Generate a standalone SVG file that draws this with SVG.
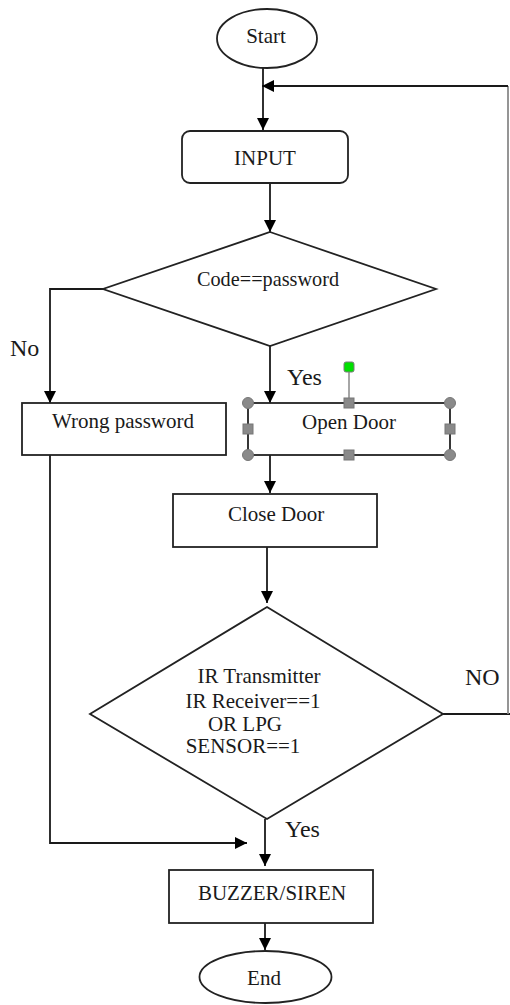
<svg xmlns="http://www.w3.org/2000/svg" width="510" height="1005" viewBox="0 0 510 1005">
<defs>
<style>
.shape{fill:#fff;stroke:#222;stroke-width:1.8}
.line{fill:none;stroke:#1a1a1a;stroke-width:1.8}
.t{font-size:21px;fill:#1a1a1a;text-anchor:middle}
.lbl{font-size:24px;fill:#1a1a1a}
.h{fill:#8a8a8a;stroke:#777;stroke-width:1}
</style>
<marker id="ah" viewBox="0 0 12 12" refX="12" refY="6" markerWidth="12" markerHeight="12" markerUnits="userSpaceOnUse" orient="auto">
<path d="M0,0 L12,6 L0,12 Z" fill="#000"/>
</marker>
</defs>
<rect width="510" height="1005" fill="#fff"/>

<g font-family="'Liberation Serif', 'Times New Roman', serif">
<g id="connectors">
<line class="line" x1="263" y1="68" x2="263" y2="130" marker-end="url(#ah)"/>
<polyline class="line" points="443,714 510,714" />
<line x1="508" y1="714" x2="508" y2="86" stroke="#8a8a8a" stroke-width="1.8"/>
<line class="line" x1="508" y1="86" x2="262" y2="86" marker-end="url(#ah)"/>
<line class="line" x1="270" y1="183" x2="270" y2="232" marker-end="url(#ah)"/>
<polyline class="line" points="103,289 50,289 50,403" marker-end="url(#ah)"/>
<line class="line" x1="270" y1="346" x2="270" y2="403" marker-end="url(#ah)"/>
<line class="line" x1="270" y1="455" x2="270" y2="493" marker-end="url(#ah)"/>
<line class="line" x1="267" y1="547" x2="267" y2="603" marker-end="url(#ah)"/>
<polyline class="line" points="50,455 50,843 247,843" marker-end="url(#ah)"/>
<line class="line" x1="265" y1="819" x2="265" y2="866" marker-end="url(#ah)"/>
<line class="line" x1="265" y1="923" x2="265" y2="950" marker-end="url(#ah)"/>
<text class="lbl" x="10" y="356" font-size="25">No</text>
<text class="lbl" x="287" y="385">Yes</text>
<text class="lbl" x="465" y="685">NO</text>
<text class="lbl" x="285" y="837">Yes</text>
</g>

<g id="start">
<ellipse class="shape" cx="267" cy="38.5" rx="50" ry="29.5"/>
<text class="t" x="266" y="43" font-size="20">Start</text>
</g>

<g id="input">
<rect class="shape" x="182" y="131" width="166" height="52" rx="8"/>
<text class="t" x="265" y="165" font-size="25">INPUT</text>
</g>

<g id="decision-code">
<polygon class="shape" points="270,232 436,289 270,346 103,289"/>
<text class="t" x="268" y="286" textLength="142" lengthAdjust="spacingAndGlyphs">Code==password</text>
</g>

<g id="wrong-password">
<rect class="shape" x="22" y="403" width="204" height="52"/>
<text class="t" x="123" y="428">Wrong password</text>
</g>

<g id="open-door">
<rect class="shape" x="248" y="403" width="202" height="52"/>
<text class="t" x="349" y="429">Open Door</text>
<line x1="349" y1="371" x2="349" y2="399" stroke="#888" stroke-width="1.5"/>
<rect x="344" y="362" width="10" height="10" rx="2" fill="#00e000" stroke="#7a7a7a" stroke-width="1"/>
<circle class="h" cx="248" cy="403" r="5.5"/>
<circle class="h" cx="450" cy="403" r="5.5"/>
<circle class="h" cx="248" cy="455" r="5.5"/>
<circle class="h" cx="450" cy="455" r="5.5"/>
<rect class="h" x="344" y="398" width="10" height="10"/>
<rect class="h" x="344" y="450" width="10" height="10"/>
<rect class="h" x="243" y="424" width="10" height="10"/>
<rect class="h" x="445" y="424" width="10" height="10"/>
</g>

<g id="close-door">
<rect class="shape" x="173" y="494" width="204" height="53"/>
<text class="t" x="276" y="521">Close Door</text>
</g>

<g id="decision-sensor">
<polygon class="shape" points="267,607 443,714 267,819 90,714"/>
<text class="t" x="259" y="683">IR Transmitter</text>
<text class="t" x="253" y="708">IR Receiver==1</text>
<text class="t" x="245" y="731">OR LPG</text>
<text class="t" x="243" y="753">SENSOR==1</text>
</g>

<g id="buzzer">
<rect class="shape" x="169" y="870" width="204" height="53"/>
<text class="t" x="272" y="900">BUZZER/SIREN</text>
</g>

<g id="end">
<ellipse class="shape" cx="265.5" cy="977" rx="66" ry="26"/>
<text class="t" x="264" y="985">End</text>
</g>
</g>
</svg>
